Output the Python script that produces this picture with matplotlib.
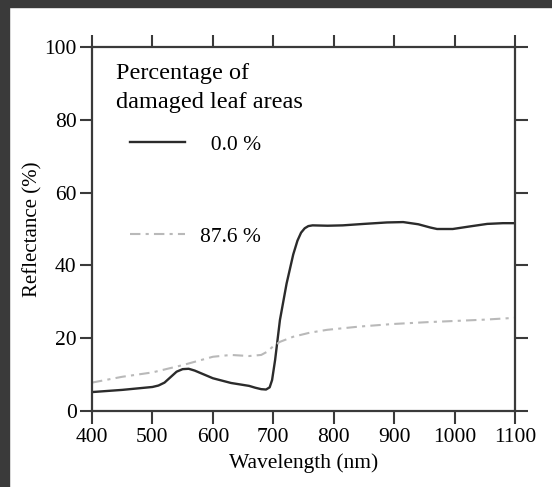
import matplotlib
matplotlib.use("Agg")
import matplotlib.pyplot as plt
from matplotlib.patches import Rectangle

plt.rcParams['font.family'] = ['Liberation Serif', 'DejaVu Serif']

# 0.0 % damaged leaf area (solid black)
wl_healthy = [400, 450, 500, 510, 520, 530, 540, 550, 560, 570, 580, 590, 600,
              630, 660, 670, 680, 688, 694, 698, 703, 711, 722, 733, 740,
              746, 752, 758, 765, 790, 815, 850, 888, 915, 940,
              960, 971, 997, 1025, 1054, 1080, 1100]
refl_healthy = [5.2, 5.8, 6.6, 7.0, 7.8, 9.3, 10.8, 11.5, 11.6, 11.1, 10.4, 9.7, 9.0,
                7.7, 6.9, 6.4, 6.0, 5.9, 6.5, 8.5, 14.0, 25.0, 35.0, 43.0, 46.8,
                49.0, 50.2, 50.8, 51.0, 50.9, 51.0, 51.4, 51.8, 51.9, 51.3,
                50.4, 50.0, 50.0, 50.7, 51.4, 51.6, 51.6]

# 87.6 % damaged leaf area (grey dash-dot)
wl_damaged = [400, 450, 500, 550, 600, 630, 660, 680, 690, 700, 711, 733, 760, 789,
              843, 898, 954, 1009, 1050, 1100]
refl_damaged = [7.8, 9.4, 10.6, 12.6, 14.9, 15.4, 15.1, 15.4, 16.3, 17.8, 19.0, 20.4,
                21.5, 22.3, 23.2, 23.9, 24.4, 24.8, 25.1, 25.6]

x_ticks = [400, 500, 600, 700, 800, 900, 1000, 1100]
y_ticks = [0, 20, 40, 60, 80, 100]

fig = plt.figure(figsize=(5.52, 4.87), dpi=100)
ax = fig.add_axes([92 / 552, 76 / 487, 423 / 552, 364 / 487])

line_col = '#2b2b2b'
ax.plot(wl_healthy, refl_healthy, color=line_col, lw=1.7, label='\u20070.0 %',
        solid_joinstyle='round')
ax.plot(wl_damaged, refl_damaged, color='#b9b9b9', lw=1.5,
        dashes=[5, 2.5, 1.5, 2.5], label='87.6 %')

ax.set_xlim(400, 1100)
ax.set_ylim(0, 100)
ax.set_xticks(x_ticks)
ax.set_yticks(y_ticks)
ax.tick_params(direction='out', length=9, width=1.5, color='#3a3a3a',
               labelsize=15.5, top=True, right=True, pad=2)
ax.tick_params(axis='x', pad=3)
for s in ax.spines.values():
    s.set_linewidth(1.6)
    s.set_color('#3a3a3a')

ax.set_xlabel('Wavelength (nm)', fontsize=15.5, labelpad=5)
ax.set_ylabel('Reflectance (%)', fontsize=15, labelpad=1)

# legend title
ax.text(0.0575, 0.911, 'Percentage of', transform=ax.transAxes,
        fontsize=17.5, va='baseline', ha='left')
ax.text(0.0575, 0.8316, 'damaged leaf areas', transform=ax.transAxes,
        fontsize=17.5, va='baseline', ha='left')
ax.legend(loc='upper left', bbox_to_anchor=(0.09, 0.759), frameon=False,
          fontsize=15.5, handlelength=2.55, handletextpad=0.7,
          labelspacing=3.35, borderpad=0, borderaxespad=0)

# dark frame of the source scan
fig.patches.append(Rectangle((0, 1 - 7 / 487), 1, 7 / 487,
                             transform=fig.transFigure, color='#3a3a3a', zorder=0))
fig.patches.append(Rectangle((0, 0), 9 / 552, 1,
                             transform=fig.transFigure, color='#3a3a3a', zorder=0))

fig.savefig('out.png', dpi=100)
